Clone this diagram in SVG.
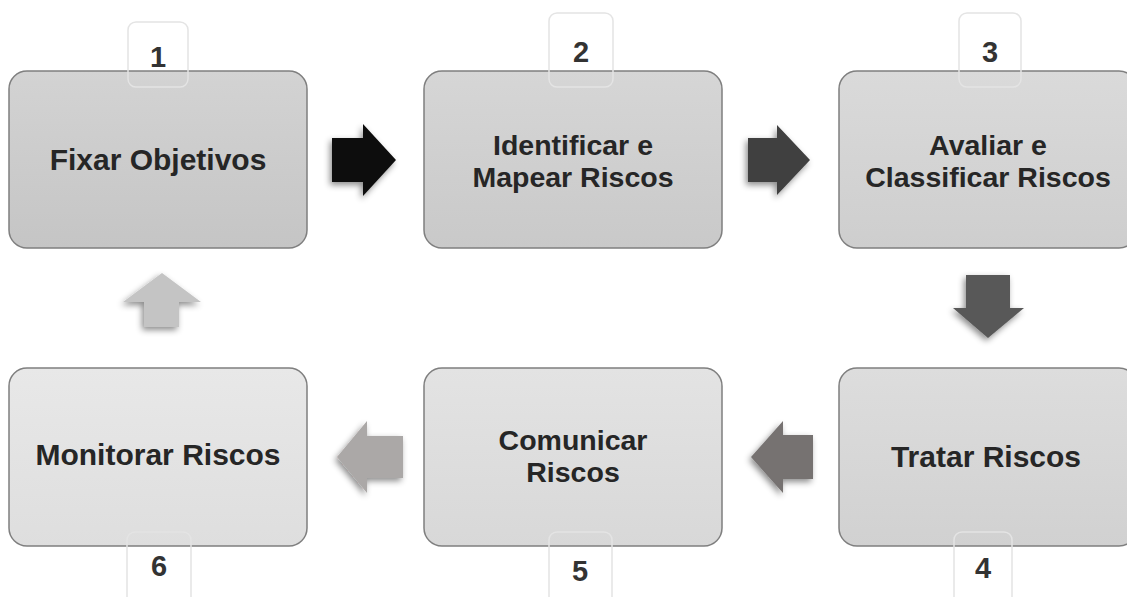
<svg xmlns="http://www.w3.org/2000/svg" width="1127" height="597" viewBox="0 0 1127 597">
<defs>
<linearGradient id="g1" x1="0" y1="0" x2="0" y2="1"><stop offset="0" stop-color="#d3d3d3"/><stop offset="1" stop-color="#c5c5c5"/></linearGradient>
<linearGradient id="g2" x1="0" y1="0" x2="0" y2="1"><stop offset="0" stop-color="#d6d6d6"/><stop offset="1" stop-color="#c9c9c9"/></linearGradient>
<linearGradient id="g3" x1="0" y1="0" x2="0" y2="1"><stop offset="0" stop-color="#dadada"/><stop offset="1" stop-color="#cecece"/></linearGradient>
<linearGradient id="g4" x1="0" y1="0" x2="0" y2="1"><stop offset="0" stop-color="#dddddd"/><stop offset="1" stop-color="#d1d1d1"/></linearGradient>
<linearGradient id="g5" x1="0" y1="0" x2="0" y2="1"><stop offset="0" stop-color="#e3e3e3"/><stop offset="1" stop-color="#d8d8d8"/></linearGradient>
<linearGradient id="g6" x1="0" y1="0" x2="0" y2="1"><stop offset="0" stop-color="#e8e8e8"/><stop offset="1" stop-color="#dedede"/></linearGradient>
<filter id="sh" x="-30%" y="-30%" width="160%" height="170%">
<feDropShadow dx="-2" dy="3" stdDeviation="3" flood-color="#000" flood-opacity="0.45"/>
</filter>
</defs>
<style>
.box{stroke:#7f7f7f;stroke-width:1.5}
.num{fill:none;stroke:#e4e4e4;stroke-width:1.5}
.t{font-family:"Liberation Sans",Arial,sans-serif;font-weight:bold;font-size:30px;fill:#262626;text-anchor:middle}
.t2{font-family:"Liberation Sans",Arial,sans-serif;font-weight:bold;font-size:28.5px;fill:#262626;text-anchor:middle}
.n{font-family:"Liberation Sans",Arial,sans-serif;font-weight:bold;font-size:29px;fill:#333333;text-anchor:middle}
</style>
<g id="connectors">
<polygon filter="url(#sh)" fill="#111111" points="332,138 363,138 363,124 396,160 363,196 363,182 332,182"/>
<polygon filter="url(#sh)" fill="#404040" points="748,138 777,138 777,125 810,160 777,195 777,182 748,182"/>
<polygon filter="url(#sh)" fill="#595959" points="966,275 1010,275 1010,308 1024,308 988,338 953,308 966,308"/>
<polygon filter="url(#sh)" fill="#767271" points="813,435 783,435 783,421 751,457 783,493 783,479 813,479"/>
<polygon filter="url(#sh)" fill="#aba8a7" points="403,436 367,436 367,421 337,457 367,493 367,478 403,478"/>
<polygon filter="url(#sh)" fill="#c4c4c4" points="144,327 144,302 123,302 162,273 201,302 179,302 179,327"/>
</g>
<g id="node1">
<rect class="box" x="9" y="71" width="298" height="177" rx="18" fill="url(#g1)"/>
<rect class="num" x="128" y="22" width="60" height="65" rx="8"/>
<text class="n" x="158" y="67">1</text>
<text class="t" x="158" y="170">Fixar Objetivos</text>
</g>
<g id="node2">
<rect class="box" x="424" y="71" width="298" height="177" rx="18" fill="url(#g2)"/>
<rect class="num" x="549" y="13" width="64" height="74" rx="8"/>
<text class="n" x="581" y="62">2</text>
<text class="t2" x="573" y="155">Identificar e</text>
<text class="t2" x="573" y="187">Mapear Riscos</text>
</g>
<g id="node3">
<rect class="box" x="839" y="71" width="298" height="177" rx="18" fill="url(#g3)"/>
<rect class="num" x="959" y="13" width="62" height="74" rx="8"/>
<text class="n" x="990" y="62">3</text>
<text class="t2" x="988" y="155">Avaliar e</text>
<text class="t2" x="988" y="187">Classificar Riscos</text>
</g>
<g id="node4">
<rect class="box" x="839" y="368" width="298" height="178" rx="18" fill="url(#g4)"/>
<rect class="num" x="954" y="532" width="58" height="74" rx="8"/>
<text class="n" x="983" y="578">4</text>
<text class="t" x="986" y="467">Tratar Riscos</text>
</g>
<g id="node5">
<rect class="box" x="424" y="368" width="298" height="178" rx="18" fill="url(#g5)"/>
<rect class="num" x="549" y="532" width="63" height="74" rx="8"/>
<text class="n" x="580" y="581">5</text>
<text class="t2" x="573" y="450">Comunicar</text>
<text class="t2" x="573" y="482">Riscos</text>
</g>
<g id="node6">
<rect class="box" x="9" y="368" width="298" height="178" rx="18" fill="url(#g6)"/>
<rect class="num" x="127" y="532" width="64" height="74" rx="8"/>
<text class="n" x="159" y="576">6</text>
<text class="t" x="158" y="465">Monitorar Riscos</text>
</g>
</svg>
